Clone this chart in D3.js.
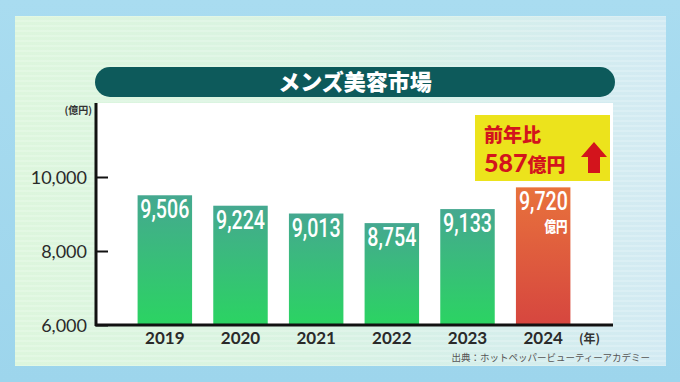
<!DOCTYPE html>
<html>
<head>
<meta charset="utf-8">
<script src="https://cdn.jsdelivr.net/npm/d3@7.9.0/dist/d3.min.js"></script>
<style>
  body { margin: 0; background: #a3d8ee; }
  svg { display: block; }
</style>
</head>
<body>
<svg id="chart" width="680" height="382"></svg>
<script>
// data
const years = ["2019", "2020", "2021", "2022", "2023", "2024"];
const values = [9506, 9224, 9013, 8754, 9133, 9720];
const yTicks = [6000, 8000, 10000];
const title = "メンズ美容市場";
const source = "出典：ホットペッパービューティーアカデミー";

const svg = d3.select("#chart");
const defs = svg.append("defs");

// backgrounds
const bgGrad = defs.append("linearGradient").attr("id", "bg").attr("x1", 0).attr("x2", 0).attr("y1", 0).attr("y2", 1);
bgGrad.append("stop").attr("offset", 0).attr("stop-color", "#a9dcf0");
bgGrad.append("stop").attr("offset", 1).attr("stop-color", "#9dd5ec");

const panelGrad = defs.append("linearGradient").attr("id", "panel").attr("x1", 0).attr("x2", 1);
panelGrad.append("stop").attr("offset", 0).attr("stop-color", "#ddf6dd");
panelGrad.append("stop").attr("offset", 0.45).attr("stop-color", "#d9f3e2");
panelGrad.append("stop").attr("offset", 1).attr("stop-color", "#d2eaf3");

const stripes = defs.append("pattern").attr("id", "stripes")
  .attr("width", 8).attr("height", 5).attr("patternUnits", "userSpaceOnUse");
stripes.append("rect").attr("width", 8).attr("height", 2).attr("fill", "#ffffff").attr("opacity", 0.18);

const greenGrad = defs.append("linearGradient").attr("id", "green").attr("x1", 0).attr("x2", 0).attr("y1", 0).attr("y2", 1);
greenGrad.append("stop").attr("offset", 0).attr("stop-color", "#45a890");
greenGrad.append("stop").attr("offset", 1).attr("stop-color", "#2bd462");

const redGrad = defs.append("linearGradient").attr("id", "red").attr("x1", 0).attr("x2", 0).attr("y1", 0).attr("y2", 1);
redGrad.append("stop").attr("offset", 0).attr("stop-color", "#e8723c");
redGrad.append("stop").attr("offset", 1).attr("stop-color", "#d6463f");

svg.append("rect").attr("width", 680).attr("height", 382).attr("fill", "url(#bg)");
svg.append("rect").attr("x", 15).attr("y", 16).attr("width", 651).attr("height", 350).attr("fill", "url(#panel)");
svg.append("rect").attr("x", 15).attr("y", 16).attr("width", 651).attr("height", 350).attr("fill", "url(#stripes)");

// title pill
svg.append("rect").attr("x", 95).attr("y", 67).attr("width", 520).attr("height", 30)
  .attr("rx", 15).attr("fill", "#0d5a5b");
svg.append("text").attr("x", 355).attr("y", 90).attr("text-anchor", "middle")
  .attr("font-family", "'Noto Sans CJK JP'").attr("font-weight", 900).attr("font-size", 22)
  .attr("fill", "#fff").text(title);

// scales
const x = d3.scaleBand().domain(years).range([127, 581]).paddingInner(0.28).paddingOuter(0.14);
const y = d3.scaleLinear().domain([6000, 12000]).range([325, 103]);

// plot area
svg.append("rect").attr("x", 96).attr("y", 103).attr("width", 517).attr("height", 222).attr("fill", "#fff");

// bars
svg.selectAll("rect.bar").data(values).join("rect").attr("class", "bar")
  .attr("x", (d, i) => x(years[i]))
  .attr("y", d => y(d))
  .attr("width", x.bandwidth())
  .attr("height", d => y(6000) - y(d))
  .attr("fill", (d, i) => i === values.length - 1 ? "url(#red)" : "url(#green)");

// value labels (squeezed to look condensed)
const lastIdx = values.length - 1;
svg.selectAll("text.val").data(values).join("text").attr("class", "val")
  .attr("x", (d, i) => i === lastIdx ? x(years[i]) + x.bandwidth() - 27 : x(years[i]) + x.bandwidth() / 2)
  .attr("y", d => y(d) + 23)
  .attr("text-anchor", "middle")
  .attr("font-family", "Roboto, sans-serif").attr("font-weight", 500).attr("font-size", 26)
  .attr("textLength", 49).attr("lengthAdjust", "spacingAndGlyphs")
  .attr("fill", "#fff").text(d => d3.format(",")(d));

const last = years[lastIdx];
svg.append("text").attr("x", x(last) + x.bandwidth() - 3).attr("y", y(values[lastIdx]) + 45)
  .attr("text-anchor", "end").attr("font-family", "'Noto Sans CJK JP'").attr("font-weight", 900)
  .attr("font-size", 15).attr("textLength", 23).attr("lengthAdjust", "spacingAndGlyphs")
  .attr("fill", "#fff").text("億円");

// axes
const yAxis = d3.axisLeft(y).tickValues(yTicks).tickSize(-12).tickPadding(9).tickFormat(d3.format(","));
const gy = svg.append("g").attr("transform", "translate(96,0)").call(yAxis);
gy.select(".domain").remove();
gy.selectAll(".tick line").attr("stroke", "#111").attr("stroke-width", 2);
gy.selectAll(".tick text").attr("font-family", "Lato, sans-serif").attr("font-size", 18)
  .attr("fill", "#2a2a2a").attr("dy", "0.35em");

const xAxis = d3.axisBottom(x).tickSize(0).tickPadding(6);
const gx = svg.append("g").attr("transform", "translate(0,325)").call(xAxis);
gx.select(".domain").remove();
gx.selectAll(".tick text").attr("font-family", "Lato, sans-serif").attr("font-weight", 700)
  .attr("font-size", 17).attr("fill", "#2a2a2a").attr("dy", "0.75em");

svg.append("line").attr("x1", 96).attr("x2", 96).attr("y1", 103).attr("y2", 326)
  .attr("stroke", "#111").attr("stroke-width", 3);
svg.append("line").attr("x1", 95).attr("x2", 613).attr("y1", 325).attr("y2", 325)
  .attr("stroke", "#111").attr("stroke-width", 3);

// unit labels
svg.append("text").attr("x", 92).attr("y", 114).attr("text-anchor", "end")
  .attr("font-family", "'Noto Sans CJK JP'").attr("font-weight", 700).attr("font-size", 10)
  .attr("fill", "#333").text("(億円)");
svg.append("text").attr("x", 579).attr("y", 343)
  .attr("font-family", "'Noto Sans CJK JP'").attr("font-weight", 700).attr("font-size", 12)
  .attr("fill", "#333").text("(年)");

// source
svg.append("text").attr("x", 650).attr("y", 361).attr("text-anchor", "end")
  .attr("font-family", "'Noto Sans CJK JP'").attr("font-size", 9.5)
  .attr("fill", "#555").text(source);

// annotation box
svg.append("rect").attr("x", 475).attr("y", 115).attr("width", 135).attr("height", 66).attr("fill", "#ece31c");
svg.append("text").attr("x", 484).attr("y", 142)
  .attr("font-family", "'Noto Sans CJK JP'").attr("font-weight", 900).attr("font-size", 19)
  .attr("fill", "#d3141c").text("前年比");
const t2 = svg.append("text").attr("x", 484).attr("y", 172)
  .attr("font-family", "'Noto Sans CJK JP'").attr("font-weight", 900).attr("fill", "#d3141c");
t2.append("tspan").attr("font-family", "Lato, sans-serif").attr("font-size", 25).text("587");
t2.append("tspan").attr("font-size", 19).text("億円");

// up arrow
const arrow = d3.path();
arrow.moveTo(594, 142);
arrow.lineTo(607, 157);
arrow.lineTo(600, 157);
arrow.lineTo(600, 173);
arrow.lineTo(588, 173);
arrow.lineTo(588, 157);
arrow.lineTo(581, 157);
arrow.closePath();
svg.append("path").attr("d", arrow.toString()).attr("fill", "#d3141c");
</script>
</body>
</html>
